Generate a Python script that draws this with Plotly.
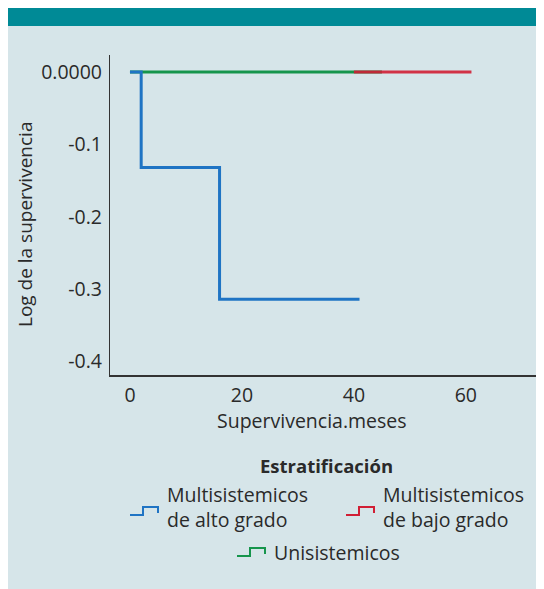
import plotly.graph_objects as go

# ---- data ----
alto_x = [0, 2, 16, 41]
alto_y = [0.0, -0.132, -0.314, -0.314]
bajo_x = [40, 61]
bajo_y = [0.0, 0.0]
uni_x = [0, 45]
uni_y = [0.0, 0.0]

x_ticks = [0, 20, 40, 60]
x_ticktext = ["0", "20", "40", "60"]
y_ticks = [0.0, -0.1, -0.2, -0.3, -0.4]
y_ticktext = ["0.0000", "-0.1", "-0.2", "-0.3", "-0.4"]

series_names = ["Multisistemicos<br>de alto grado", "Multisistemicos<br>de bajo grado", "Unisistemicos"]
colors = ["#1f74c4", "#d11f35", "#16954c"]
legend_title = "Estratificación"
x_title = "Supervivencia.meses"
y_title = "Log de la supervivencia"

OFF = 8  # page body margin
W, H = 544 - OFF, 589 - OFF
L, R, T, B = 110 - OFF, 542 - OFF, 55 - OFF, 375 - OFF
FONT = "Open Sans"
FS = 19.5
TXT = "#2a2a2a"

def px(x):
    # x given in window pixels
    return (x - OFF - L) / (R - L)

def py(y):
    return (B - (y - OFF)) / (B - T)

fig = go.Figure()
fig.add_trace(go.Scatter(x=uni_x, y=uni_y, mode="lines", line=dict(color=colors[2], width=3, shape="hv"), name="Unisistemicos"))
fig.add_trace(go.Scatter(x=bajo_x, y=bajo_y, mode="lines", line=dict(color=colors[1], width=3, shape="hv"), opacity=0.9, name="bajo"))
fig.add_trace(go.Scatter(x=alto_x, y=alto_y, mode="lines", line=dict(color=colors[0], width=3, shape="hv"), name="alto"))

shapes = [
    dict(type="rect", xref="paper", yref="paper", x0=px(0), x1=px(560), y0=py(600), y1=py(26),
         fillcolor="#d6e5e9", line=dict(width=0), layer="below"),
    dict(type="rect", xref="paper", yref="paper", x0=px(0), x1=px(560), y0=py(26), y1=py(0),
         fillcolor="#008a96", line=dict(width=0), layer="below"),
]

def step_path(x0, yb):
    pts = [(x0, yb), (x0 + 13, yb), (x0 + 13, yb - 8), (x0 + 28, yb - 8), (x0 + 28, yb - 2)]
    d = "M " + " L ".join(f"{px(a):.5f},{py(b):.5f}" for a, b in pts)
    return dict(type="path", xref="paper", yref="paper", path=d, line=dict(color=None, width=2))

legend_pos = [(130, 515, 165, 507), (346, 515, 381, 507), (237, 556, 272, 552)]
annotations = []
for (sx, sy, tx, ty), name, c in zip(legend_pos, series_names, colors):
    s = step_path(sx, sy)
    s["line"]["color"] = c
    shapes.append(s)
    annotations.append(dict(xref="paper", yref="paper", x=px(tx), y=py(ty), text=name, showarrow=False,
                            xanchor="left", yanchor="middle", align="left",
                            font=dict(family=FONT, size=FS, color=TXT)))

annotations.append(dict(xref="paper", yref="paper", x=px(326), y=py(465), text="<b>" + legend_title + "</b>",
                        showarrow=False, xanchor="center", yanchor="middle",
                        font=dict(family=FONT, size=18.5, color=TXT)))
annotations.append(dict(xref="paper", yref="paper", x=px(312), y=py(420), text=x_title, showarrow=False,
                        xanchor="center", yanchor="middle", font=dict(family=FONT, size=FS, color=TXT)))
annotations.append(dict(xref="paper", yref="paper", x=px(25), y=py(225), text=y_title, showarrow=False,
                        textangle=-90, xanchor="center", yanchor="middle", font=dict(family=FONT, size=19, color=TXT)))

fig.update_layout(
    width=W, height=H,
    margin=dict(l=L, r=W - R, t=T, b=H - B, pad=0),
    paper_bgcolor="white", plot_bgcolor="rgba(0,0,0,0)",
    showlegend=False,
    shapes=shapes, annotations=annotations,
    font=dict(family=FONT, size=FS, color=TXT),
)
fig.update_xaxes(range=[-3.57, 73.6], tickvals=x_ticks, ticktext=x_ticktext, showgrid=False, zeroline=False,
                 showline=True, linecolor="#333333", linewidth=1.5, ticks="", ticklabelstandoff=2,
                 tickfont=dict(family=FONT, size=FS, color=TXT))
fig.update_yaxes(range=[-0.4185, 0.0235], tickvals=y_ticks, ticktext=y_ticktext, showgrid=False, zeroline=False,
                 showline=True, linecolor="#333333", linewidth=1.2, ticks="", ticklabelstandoff=3,
                 tickfont=dict(family=FONT, size=FS, color=TXT))

fig.write_html("out.html")
